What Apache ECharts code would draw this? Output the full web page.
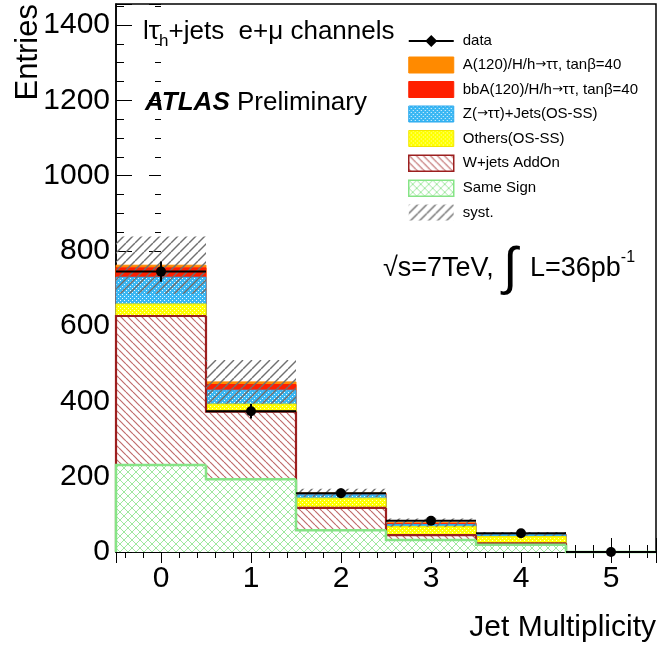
<!DOCTYPE html>
<html>
<head>
<meta charset="utf-8">
<script src="https://cdn.jsdelivr.net/npm/echarts@6/dist/echarts.min.js"></script>
<style>html,body{margin:0;padding:0;background:#fff}#c{width:658px;height:648px}</style>
</head>
<body>
<div id="c"></div>
<script>
// ---------------- data ----------------
const bins = [0, 1, 2, 3, 4, 5];
const xTickLabels = ['0', '1', '2', '3', '4', '5'];
const sameSign = [231, 193, 58, 32, 19, 0];
const wjets    = [396, 180, 59, 13, 4, 0];
const others   = [32, 20, 26, 23, 18, 0];
const zjets    = [71, 37, 9, 5, 5, 0];
const bbA      = [25, 15, 3, 3, 1, 0];
const aSignal  = [7, 7, 2, 2, 1, 0];
const dataVals = [745, 374, 156, 83, 50, 0];
const dataErr  = [27, 19, 12.5, 9, 7, 0];
const systErr  = [76, 58, 11, 11, 5, 0];
const legendNames = ['data', 'A(120)/H/h→ττ, tanβ=40', 'bbA(120)/H/h→ττ, tanβ=40',
  'Z(→ττ)+Jets(OS-SS)', 'Others(OS-SS)', 'W+jets AddOn', 'Same Sign', 'syst.'];

// ---------------- styling helpers ----------------
const FONT = '"Liberation Sans", Arial, Helvetica, sans-serif';
function makePattern(size, bg, draw) {
  const c = document.createElement('canvas');
  c.width = size; c.height = size;
  const ctx = c.getContext('2d');
  if (bg) { ctx.fillStyle = bg; ctx.fillRect(0, 0, size, size); }
  draw(ctx, size);
  return { image: c, repeat: 'repeat' };
}
function back(ctx, s, col, w) { // "\" lines
  ctx.strokeStyle = col; ctx.lineWidth = w;
  for (const x0 of [-s, 0, s]) { ctx.beginPath(); ctx.moveTo(x0, 0); ctx.lineTo(x0 + s, s); ctx.stroke(); }
}
function fwd(ctx, s, col, w) { // "/" lines
  ctx.strokeStyle = col; ctx.lineWidth = w;
  for (const x0 of [-s, 0, s]) { ctx.beginPath(); ctx.moveTo(x0 + s, 0); ctx.lineTo(x0, s); ctx.stroke(); }
}
function dots(ctx, s, col) {
  ctx.fillStyle = col;
  ctx.fillRect(0, 0, 1, 1); ctx.fillRect(s / 2, s / 2, 1, 1);
}
const patW = makePattern(7, '#ffffff', (c, s) => back(c, s, '#bf6a6a', 1.15));
const patSS = makePattern(8, '#ffffff', (c, s) => { back(c, s, '#9fe89f', 1); fwd(c, s, '#9fe89f', 1); });
const patZ = makePattern(4, '#3ab7f3', (c, s) => dots(c, s, '#eef9ff'));
const patO = makePattern(4, '#ffff00', (c, s) => dots(c, s, '#ffffd0'));
const patSyst = makePattern(9, null, (c, s) => fwd(c, s, '#707070', 1.4));

// ---------------- stacking ----------------
const layers = [
  { name: legendNames[6], vals: sameSign, fill: patSS, stroke: '#86e486', lw: 2.5 },
  { name: legendNames[5], vals: wjets, fill: patW, stroke: '#9c1f1f', lw: 2.2 },
  { name: legendNames[4], vals: others, fill: patO, stroke: '#f2e600', lw: 1 },
  { name: legendNames[3], vals: zjets, fill: patZ, stroke: '#2aa8ee', lw: 1 },
  { name: legendNames[2], vals: bbA, fill: '#ff2000', stroke: '#ff2000', lw: 1 },
  { name: legendNames[1], vals: aSignal, fill: '#ff8a00', stroke: '#ff8a00', lw: 1 }
];
let running = bins.map(() => 0);
layers.forEach(L => {
  L.lo = running.slice();
  L.hi = running.map((v, i) => v + L.vals[i]);
  running = L.hi.slice();
});
const total = running;

function layerRender(fill, stroke, lw) {
  return function (params, api) {
    const i = api.value(0), lo = api.value(1), hi = api.value(2), prev = api.value(3);
    const a = api.coord([i - 0.5, hi]), b = api.coord([i + 0.5, lo]);
    const p = api.coord([i - 0.5, prev]);
    const children = [];
    if (hi > lo) children.push({ type: 'rect', shape: { x: a[0], y: a[1], width: b[0] - a[0], height: b[1] - a[1] }, style: { fill: fill } });
    children.push({ type: 'polyline', shape: { points: [[p[0], p[1]], [a[0], a[1]], [b[0], a[1]]] }, style: { stroke: stroke, lineWidth: lw, fill: null } });
    return { type: 'group', children: children };
  };
}

const series = [];
// draw top layer first (ROOT THStack style) so lower outlines stay visible
layers.slice().reverse().forEach(L => {
  series.push({
    type: 'custom', name: L.name, xAxisIndex: 0, yAxisIndex: 0, clip: false,
    itemStyle: { color: L.fill, borderColor: L.stroke },
    encode: { x: 0, y: [1, 2] },
    data: bins.map((b, i) => [b, L.lo[i], L.hi[i], i > 0 ? L.hi[i - 1] : 0]),
    renderItem: layerRender(L.fill, L.stroke, L.lw)
  });
});
series.push({
  type: 'custom', name: 'syst.', clip: false,
  itemStyle: { color: patSyst },
  encode: { x: 0, y: [1, 2] },
  data: bins.map((b, i) => [b, total[i] - systErr[i], total[i] + systErr[i]]),
  renderItem: function (params, api) {
    const i = api.value(0);
    const a = api.coord([i - 0.5, api.value(2)]), b = api.coord([i + 0.5, api.value(1)]);
    return { type: 'rect', shape: { x: a[0], y: a[1], width: b[0] - a[0], height: b[1] - a[1] }, style: { fill: patSyst } };
  }
});
series.push({
  type: 'custom', name: 'data', clip: false,
  itemStyle: { color: '#000' },
  encode: { x: 0, y: 1 },
  data: bins.map((b, i) => [b, dataVals[i], dataErr[i]]),
  renderItem: function (params, api) {
    const i = api.value(0), v = api.value(1), e = api.value(2);
    const l = api.coord([i - 0.5, v]), r = api.coord([i + 0.5, v]);
    const t = api.coord([i, v + e]), bt = api.coord([i, v - e]), c = api.coord([i, v]);
    return { type: 'group', children: [
      { type: 'line', shape: { x1: l[0], y1: l[1], x2: r[0], y2: r[1] }, style: { stroke: '#000', lineWidth: 2 } },
      { type: 'line', shape: { x1: t[0], y1: t[1], x2: bt[0], y2: bt[1] }, style: { stroke: '#000', lineWidth: 2 } },
      { type: 'circle', shape: { cx: c[0], cy: c[1], r: 5 }, style: { fill: '#000' } }
    ] };
  }
});

// ---------------- text helpers ----------------
const mctx = document.createElement('canvas').getContext('2d');
function tw(str, font) { mctx.font = font; return mctx.measureText(str).width; }
const graphics = [];
function txt(str, x, y, font, align, extra) {
  graphics.push(Object.assign({ type: 'text', x: x, y: y, silent: true,
    style: { text: str, font: font, fill: '#000', textAlign: align || 'left', textVerticalAlign: 'middle' } }, extra || {}));
}
// axis titles
txt('Entries', 28, 4, '31px ' + FONT, 'right', { rotation: Math.PI / 2 });
txt('Jet Multiplicity', 656, 628, '30px ' + FONT, 'right');
// channel label
(function () {
  const f = '26px ' + FONT, fs = '17px ' + FONT;
  let x = 143;
  txt('lτ', x, 32, f); x += tw('lτ', f);
  txt('h', x, 41, fs); x += tw('h', fs);
  txt('+jets  e+μ channels', x, 32, f);
})();
// ATLAS Preliminary
(function () {
  const fb = 'italic bold 26px ' + FONT, f = '26px ' + FONT;
  txt('ATLAS', 145, 103, fb);
  txt('Preliminary', 145 + tw('ATLAS ', fb), 103, f);
})();
// sqrt(s) and luminosity
(function () {
  const f = '27px ' + FONT, fi = '52px ' + FONT, fsup = '16px ' + FONT;
  let x = 383;
  txt('√s=7TeV,', x, 269, f);
  txt('∫', 503, 270, fi);
  x = 530;
  txt('L=36pb', x, 269, f); x += tw('L=36pb', f);
  txt('-1', x, 258, fsup);
})();

// ---------------- chart ----------------
const legendItem = (L) => ({ name: L.name, icon: 'rect', itemStyle: { color: L.fill, borderColor: L.stroke, borderWidth: L.lw > 2 ? 1.5 : 1 } });
const option = {
  animation: false,
  backgroundColor: '#fff',
  grid: { left: 116, right: 2, top: 4, bottom: 96, show: true, borderColor: '#000', borderWidth: 1.5, backgroundColor: 'transparent' },
  legend: {
    orient: 'vertical', left: 403, top: 28, itemWidth: 45, itemHeight: 16, itemGap: 7.5,
    selectedMode: false,
    formatter: (name) => '{t|' + name.split('→').join('}{ar|→}{t|') + '}',
    textStyle: { fontFamily: FONT, fontSize: 15, color: '#000', lineHeight: 16, padding: [0, 0, 0, 4],
      rich: { t: { fontFamily: FONT, fontSize: 15, color: '#000', lineHeight: 16 },
              ar: { fontFamily: '"DejaVu Sans", sans-serif', fontSize: 13, color: '#000', lineHeight: 16 } } },
    data: [
      { name: 'data', icon: 'path://M0,5L45,5L45,7L0,7Z M22.5,0L28.5,6L22.5,12L16.5,6Z', itemStyle: { color: '#000', borderWidth: 0 } },
      legendItem(layers[5]), legendItem(layers[4]), legendItem(layers[3]),
      legendItem(layers[2]), legendItem(layers[1]), legendItem(layers[0]),
      { name: 'syst.', icon: 'rect', itemStyle: { color: patSyst, borderWidth: 0 } }
    ]
  },
  xAxis: [
    { type: 'value', min: -0.5, max: 5.5, position: 'bottom',
      axisLine: { show: true, onZero: false, lineStyle: { color: '#000', width: 1.5 } },
      axisTick: { show: true, inside: true, length: 14, lineStyle: { color: '#000', width: 1 } },
      minorTick: { show: true, splitNumber: 5, length: 7, lineStyle: { color: '#000', width: 1 } },
      splitLine: { show: false },
      axisLabel: { show: true, margin: 12, fontFamily: FONT, fontSize: 30, color: '#000', showMinLabel: false, showMaxLabel: false,
        formatter: (v) => { const k = bins.indexOf(v); return k >= 0 ? xTickLabels[k] : ''; } } },
    { type: 'value', min: -0.5, max: 5.5, position: 'top',
      axisLine: { show: false },
      axisTick: { show: true, inside: true, length: 11, lineStyle: { color: '#000', width: 1 } },
      minorTick: { show: true, splitNumber: 5, length: 6, lineStyle: { color: '#000', width: 1 } },
      splitLine: { show: false }, axisLabel: { show: false } }
  ],
  yAxis: [
    { type: 'value', min: 0, max: 1456, interval: 200, position: 'left',
      axisLine: { show: true, onZero: false, lineStyle: { color: '#000', width: 1.5 } },
      axisTick: { show: true, inside: true, length: 16, lineStyle: { color: '#000', width: 1 } },
      minorTick: { show: true, splitNumber: 4, length: 8, lineStyle: { color: '#000', width: 1 } },
      splitLine: { show: false },
      axisLabel: { show: true, margin: 6, fontFamily: FONT, fontSize: 30, color: '#000', showMaxLabel: false,
        formatter: (v) => String(v) } },
    { type: 'value', min: 0, max: 1456, interval: 200, position: 'right',
      axisLine: { show: false },
      axisTick: { show: true, inside: true, length: 12, lineStyle: { color: '#000', width: 1 } },
      minorTick: { show: true, splitNumber: 4, length: 6, lineStyle: { color: '#000', width: 1 } },
      splitLine: { show: false }, axisLabel: { show: false } }
  ],
  series: series,
  graphic: graphics
};
const chart = echarts.init(document.getElementById('c'), null, { renderer: 'canvas' });
chart.setOption(option);
</script>
</body>
</html>
